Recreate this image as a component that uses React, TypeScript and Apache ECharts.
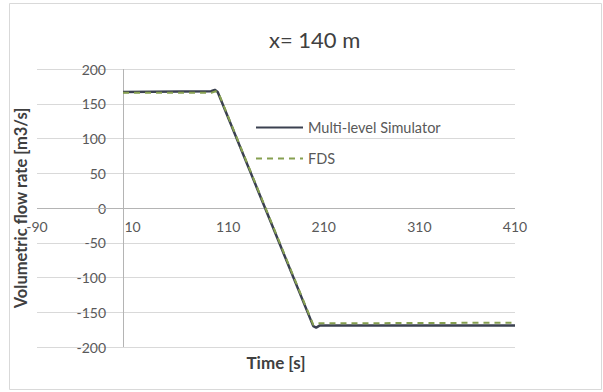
import React, { useEffect, useRef } from "react";
import * as echarts from "echarts";

const titleText = "x= 140 m";
const xAxisName = "Time [s]";
const yAxisName = "Volumetric flow rate [m3/s]";
const seriesNames = ["Multi-level Simulator", "FDS"];

const simTime = [0, 92, 96, 99, 199, 202, 206, 410];
const simFlow = [167, 168, 170, 167, -170, -172, -169, -169];

const fdsTime = [0, 93, 97, 100, 199, 203, 410];
const fdsFlow = [166, 166, 168, 165, -168, -166, -165];

const xMin = -90;
const xMax = 410;
const xStep = 100;
const yMin = -200;
const yMax = 200;
const yStep = 50;
const yAxisCrossAt = 0;
const xAxisCrossAt = 0;

export default function App() {
  const ref = useRef<HTMLDivElement>(null);
  useEffect(() => {
    if (!ref.current) return;
    const chart = echarts.init(ref.current, null, { renderer: "svg" });
    const font = "Lato, 'Open Sans', sans-serif";
    chart.setOption({
      animation: false,
      backgroundColor: "#ffffff",
      textStyle: { fontFamily: font },
      title: {
        text: titleText,
        left: 264,
        top: 23,
        textStyle: { fontSize: 22, fontWeight: "normal", color: "#404040", fontFamily: font },
      },
      graphic: [
        {
          type: "rect",
          shape: { x: 9.5, y: 3.5, width: 592, height: 386 },
          style: { fill: "none", stroke: "#d9d9d9", lineWidth: 1 },
          silent: true,
        },
      ],
      legend: {
        orient: "vertical",
        left: 250,
        top: 115,
        itemWidth: 47,
        itemHeight: 14,
        itemGap: 16,
        itemStyle: { opacity: 0 },
        textStyle: { fontSize: 14.5, color: "#595959", fontFamily: font },
        data: seriesNames,
      },
      grid: { left: 37, right: 88, top: 69, bottom: 45, containLabel: false, outerBoundsMode: "none" },
      xAxis: {
        type: "value",
        min: xMin,
        max: xMax,
        interval: xStep,
        name: xAxisName,
        nameLocation: "middle",
        nameGap: 7,
        nameTextStyle: { fontSize: 17, fontWeight: "bold", color: "#404040", fontFamily: font, verticalAlign: "top" },
        axisLine: { show: false, onZero: false },
        axisTick: { show: false },
        axisLabel: { margin: -128, fontSize: 14, color: "#595959", fontFamily: font },
        splitLine: { show: false },
      },
      yAxis: {
        type: "value",
        min: yMin,
        max: yMax,
        interval: yStep,
        name: yAxisName,
        nameLocation: "middle",
        nameGap: -1,
        nameTextStyle: { fontSize: 16.5, fontWeight: "bold", color: "#404040", fontFamily: font },
        axisLine: { show: false, onZero: false },
        axisTick: { show: false },
        axisLabel: { margin: -69, fontSize: 14, color: "#595959", fontFamily: font },
        splitLine: { show: true, lineStyle: { color: "#d9d9d9", width: 1 } },
      },
      series: [
        {
          name: seriesNames[0],
          type: "line",
          data: simTime.map((t, i) => [t, simFlow[i]]),
          symbol: "none",
          lineStyle: { color: "#3b4150", width: 2.5 },
          itemStyle: { color: "#3b4150" },
          z: 3,
          markLine: {
            silent: true,
            symbol: "none",
            label: { show: false },
            lineStyle: { color: "#b4b4b4", width: 1, type: "solid" },
            z: 1,
            data: [
              [{ coord: [yAxisCrossAt, yMin] }, { coord: [yAxisCrossAt, yMax] }],
              [{ coord: [xMin, xAxisCrossAt] }, { coord: [xMax, xAxisCrossAt] }],
            ],
          },
        },
        {
          name: seriesNames[1],
          type: "line",
          data: fdsTime.map((t, i) => [t, fdsFlow[i]]),
          symbol: "none",
          lineStyle: { color: "#86a050", width: 2, type: [6, 5] },
          itemStyle: { color: "#86a050" },
          z: 4,
        },
      ],
    });
    return () => chart.dispose();
  }, []);
  return (
    <div
      ref={ref}
      style={{ position: "absolute", left: 0, top: 0, width: 603, height: 392 }}
    />
  );
}
